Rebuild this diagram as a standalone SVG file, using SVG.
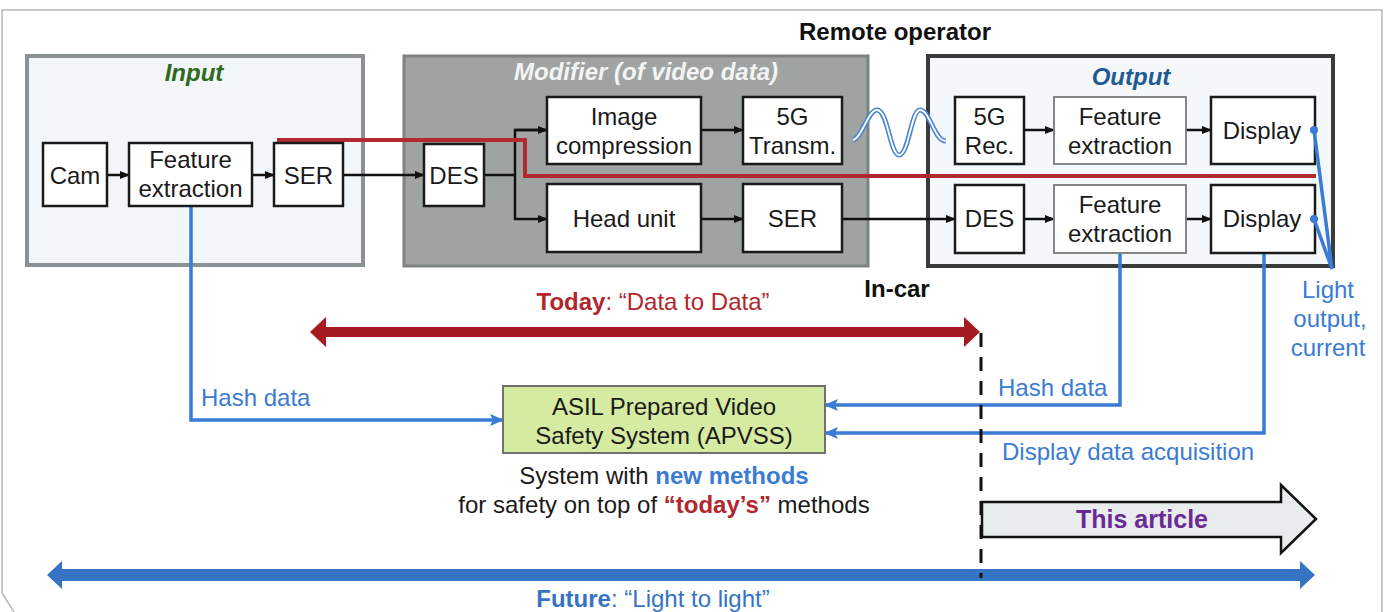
<svg xmlns="http://www.w3.org/2000/svg" width="1385" height="612" viewBox="0 0 1385 612">
<style>
text{font-family:"Liberation Sans",Arial,sans-serif;}
.node rect{fill:#fff;stroke:#1a1a1a;stroke-width:2.5;}
.node rect.lt{stroke:#7a7a7a;stroke-width:1.8;}
.t{font-size:24px;fill:#1a1a1a;text-anchor:middle;}
.blt{font-size:24px;fill:#3a7bd5;}
.k{stroke:#111;stroke-width:2.5;fill:none;}
.b{stroke:#3a7bd5;stroke-width:3.5;fill:none;}
.ttl{font-size:24px;font-weight:bold;font-style:italic;text-anchor:middle;}
</style>
<defs>
<marker id="ak" markerUnits="userSpaceOnUse" markerWidth="10" markerHeight="10" refX="9" refY="5" orient="auto"><path d="M0,1 L10,5 L0,9 z" fill="#111"/></marker>
<marker id="ab" markerUnits="userSpaceOnUse" markerWidth="14" markerHeight="12" refX="13" refY="6" orient="auto"><path d="M0,0 L14,6 L0,12 L3,6 z" fill="#3a7bd5"/></marker>
</defs>
<rect width="1385" height="612" fill="#fff"/>
<path d="M2,593 L2,10 L1382,10 L1382,612 M2,593 L14,612" fill="none" stroke="#b8b8b8" stroke-width="1.5"/>

<g id="input-group">
<rect x="27" y="56" width="336" height="209" fill="#f3f6f9" stroke="#8c9194" stroke-width="4"/>
<text class="ttl" x="194" y="81" fill="#2d6a1e">Input</text>
</g>
<g id="modifier-group">
<rect x="404" y="56" width="464" height="210" fill="#9fa3a2" stroke="#7e8283" stroke-width="3"/>
<text class="ttl" x="646" y="80" fill="#f4f4f4">Modifier (of video data)</text>
</g>
<g id="output-group">
<rect x="928" y="56" width="405" height="210" fill="#f5f8fb" stroke="#3a3a3a" stroke-width="4"/>
<text class="ttl" x="1131" y="85" fill="#1f5b91">Output</text>
</g>
<text x="895" y="40" font-size="24" font-weight="bold" text-anchor="middle" fill="#111">Remote operator</text>
<text x="897" y="297" font-size="24" font-weight="bold" text-anchor="middle" fill="#111">In-car</text>

<g id="connectors">
<line class="k" x1="107" y1="175" x2="129" y2="175" marker-end="url(#ak)"/>
<line class="k" x1="252" y1="175" x2="274" y2="175" marker-end="url(#ak)"/>
<line class="k" x1="343" y1="175" x2="424" y2="175" marker-end="url(#ak)"/>
<polyline class="k" points="484,175 515,175"/>
<polyline class="k" points="547,130 515,130 515,219 547,219" marker-end="url(#ak)"/>
<line class="k" x1="515" y1="130" x2="547" y2="130" marker-end="url(#ak)"/>
<line class="k" x1="701" y1="130" x2="743" y2="130" marker-end="url(#ak)"/>
<line class="k" x1="701" y1="219" x2="743" y2="219" marker-end="url(#ak)"/>
<line class="k" x1="842" y1="219" x2="955" y2="219" marker-end="url(#ak)"/>
<line class="k" x1="1024" y1="130" x2="1054" y2="130" marker-end="url(#ak)"/>
<line class="k" x1="1186" y1="130" x2="1211" y2="130" marker-end="url(#ak)"/>
<line class="k" x1="1024" y1="219" x2="1054" y2="219" marker-end="url(#ak)"/>
<line class="k" x1="1186" y1="219" x2="1211" y2="219" marker-end="url(#ak)"/>
<polyline points="277,140 525,140 525,176 1316,176" fill="none" stroke="#b22a2f" stroke-width="4"/>
<path d="M853,140 C862,138 868,110 877,110 C888,110 890,155 899,155 C909,155 911,110 920,110 C930,110 934,141 946,141" fill="none" stroke="#4a86d0" stroke-width="5"/>
<path d="M853,140 C862,138 868,110 877,110 C888,110 890,155 899,155 C909,155 911,110 920,110 C930,110 934,141 946,141" fill="none" stroke="#fff" stroke-width="1.8"/>
<polyline class="b" points="191,206 191,420 503,420" marker-end="url(#ab)"/>
<polyline class="b" points="1120,253 1120,405 825,405" marker-end="url(#ab)"/>
<polyline class="b" points="1264,253 1264,433 825,433" marker-end="url(#ab)"/>
<polygon points="310,332 326,317 326,327 964,327 964,317 980,332 964,347 964,337 326,337 326,347" fill="#a61b21"/>
<polygon points="47,575 62,561 62,569 1300,569 1300,561 1315,575 1300,589 1300,581 62,581 62,589" fill="#3574c4"/>
<line x1="981" y1="333" x2="981" y2="578" stroke="#111" stroke-width="3" stroke-dasharray="14,10"/>
</g>

<g id="cam" class="node"><rect x="43" y="143" width="64" height="63"/><text class="t" x="75" y="184">Cam</text></g>
<g id="fe-in" class="node"><rect x="129" y="143" width="123" height="63"/><text class="t" x="190.5" y="168">Feature</text><text class="t" x="190.5" y="197">extraction</text></g>
<g id="ser-in" class="node"><rect x="274" y="143" width="69" height="63"/><text class="t" x="308.5" y="184">SER</text></g>
<g id="des-mod" class="node"><rect x="424" y="144" width="60" height="62"/><text class="t" x="454" y="184">DES</text></g>
<g id="img-comp" class="node"><rect x="547" y="97" width="154" height="67"/><text class="t" x="624" y="125">Image</text><text class="t" x="624" y="154">compression</text></g>
<g id="tx5g" class="node"><rect x="743" y="97" width="99" height="67"/><text class="t" x="792.5" y="125">5G</text><text class="t" x="792.5" y="154">Transm.</text></g>
<g id="head-unit" class="node"><rect x="547" y="184" width="154" height="68"/><text class="t" x="624" y="227">Head unit</text></g>
<g id="ser-mod" class="node"><rect x="743" y="184" width="99" height="68"/><text class="t" x="792.5" y="227">SER</text></g>
<g id="rx5g" class="node"><rect x="955" y="97" width="69" height="67"/><text class="t" x="989.5" y="125">5G</text><text class="t" x="989.5" y="154">Rec.</text></g>
<g id="fe-out1" class="node"><rect class="lt" x="1054" y="97" width="132" height="67"/><text class="t" x="1120" y="125">Feature</text><text class="t" x="1120" y="154">extraction</text></g>
<g id="disp1" class="node"><rect x="1211" y="97" width="104" height="67"/><text class="t" x="1262" y="139">Display</text></g>
<g id="des-out" class="node"><rect x="955" y="185" width="69" height="68"/><text class="t" x="989.5" y="227">DES</text></g>
<g id="fe-out2" class="node"><rect class="lt" x="1054" y="185" width="132" height="68"/><text class="t" x="1120" y="213">Feature</text><text class="t" x="1120" y="242">extraction</text></g>
<g id="disp2" class="node"><rect x="1211" y="185" width="104" height="68"/><text class="t" x="1262" y="227">Display</text></g>

<g id="light-output-connectors">
<polyline class="b" points="1314,130 1332,269 1314,219"/>
<circle cx="1314" cy="130" r="4" fill="#3a7bd5"/>
<circle cx="1314" cy="219" r="4" fill="#3a7bd5"/>
</g>

<g id="apvss">
<rect x="503" y="386" width="322" height="67" fill="#d5eba1" stroke="#707070" stroke-width="2"/>
<text class="t" x="664" y="415">ASIL Prepared Video</text>
<text class="t" x="664" y="444">Safety System (APVSS)</text>
</g>
<text class="t" x="664" y="484">System with <tspan font-weight="bold" fill="#3a7bd5">new methods</tspan></text>
<text class="t" x="664" y="513">for safety on top of <tspan font-weight="bold" fill="#b2262c">“today’s”</tspan> methods</text>

<text class="blt" x="201" y="406">Hash data</text>
<text class="blt" x="998" y="396">Hash data</text>
<text class="blt" x="1002" y="460">Display data acquisition</text>
<text class="blt" text-anchor="middle" x="1328" y="298">Light</text>
<text class="blt" text-anchor="middle" x="1330" y="327">output,</text>
<text class="blt" text-anchor="middle" x="1328" y="356">current</text>

<text x="653" y="310" font-size="24" fill="#b2262c" text-anchor="middle"><tspan font-weight="bold">Today</tspan>: “Data to Data”</text>

<g id="this-article">
<polygon points="982,502 1281,502 1281,485 1316,519 1281,553 1281,537 982,537" fill="#e9eced" stroke="#111" stroke-width="2.5"/>
<text x="1142" y="528" font-size="25" font-weight="bold" fill="#6a2a96" text-anchor="middle">This article</text>
</g>
<text x="653" y="607" font-size="24" fill="#3574c4" text-anchor="middle"><tspan font-weight="bold">Future</tspan>: “Light to light”</text>
</svg>
